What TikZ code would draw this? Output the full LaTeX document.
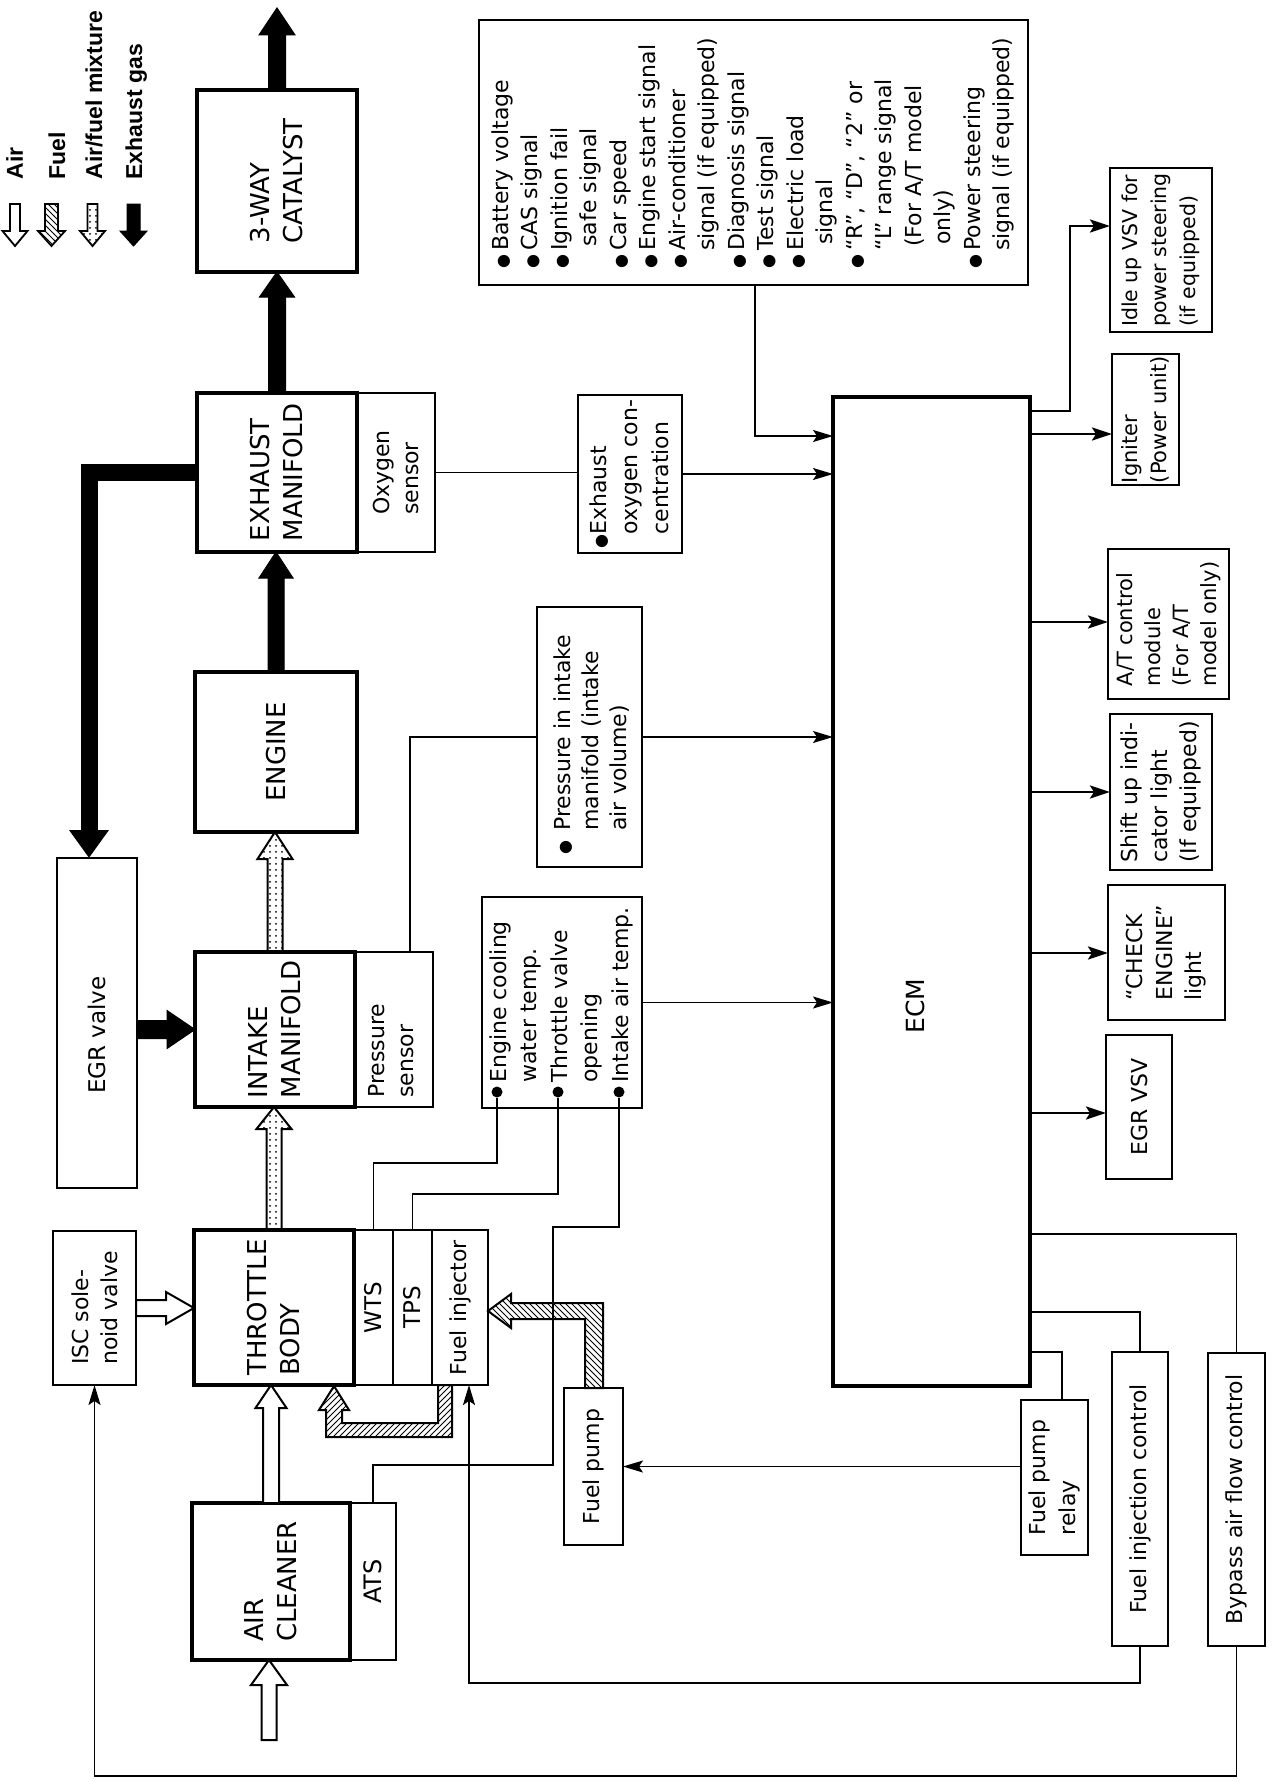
\documentclass[tikz,border=0pt]{standalone}
\usepackage{fontspec}
\setmainfont{DejaVu Sans}
\newfontfamily\legfont{Liberation Sans}
\usetikzlibrary{calc,arrows.meta,patterns}
\newcommand\bx[6][]{\node[box,#1,minimum width={(#4-#2)*0.5pt},minimum height={(#5-#3)*0.5pt}] (#6) at ({(#2+#4)/2},{(#3+#5)/2}) {};}
\newcommand\lbul[1][9pt]{\makebox[#1][l]{\fontsize{8}{8}\selectfont ●}}
\newcommand\lind[1][9pt]{\hspace*{#1}}
\newcommand\nf{\fontsize{11}{14.75}\selectfont}
\newcommand\bigf{\fontsize{13}{16.5}\selectfont}
\newcommand\legf{\legfont\bfseries\fontsize{11.5}{13}\selectfont}
\begin{document}
\begin{tikzpicture}[x=0.5pt,y=-0.5pt,
  box/.style={draw,rectangle,inner sep=0pt,outer sep=0pt,line width=1pt},
  mainbox/.style={line width=1.8pt},
  lbl/.style={rotate=90,align=left,inner sep=0pt,font=\nf},
  legl/.style={rotate=90,anchor=base west,inner sep=0pt,font=\legf},
  dot/.style={circle,fill,inner sep=0pt,minimum size=5.5pt},
  wire/.style={line width=0.8pt},
  sig/.style={line width=0.8pt,-{Stealth[length=10pt,width=6pt,inset=2pt]}},
  osig/.style={line width=1.3pt,-{Stealth[length=10pt,width=6.5pt,inset=2pt]}},
  barrow/.style n args={3}{to path={
    -- ($(\tikztostart)!#1!90:(\tikztotarget)$)
    -- ($(\tikztotarget)!#3!(\tikztostart)!#1!-90:(\tikztostart)$)
    -- ($(\tikztotarget)!#3!(\tikztostart)!#2!-90:(\tikztostart)$)
    -- (\tikztotarget)
    -- ($(\tikztotarget)!#3!(\tikztostart)!#2!90:(\tikztostart)$)
    -- ($(\tikztotarget)!#3!(\tikztostart)!#1!90:(\tikztostart)$)
    -- ($(\tikztostart)!#1!-90:(\tikztotarget)$)
    -- cycle}},
  airarr/.style={line width=1pt,fill=white},
  fuelarr/.style={line width=1pt,pattern=north west lines},
  mixarr/.style={line width=1pt,pattern=dots},
  exharr/.style={line width=0.5pt,fill=black}
]
\fill[white] (0,0) rectangle (1280,1782);
\useasboundingbox (0,0) rectangle (1280,1782);

% ---------- legend ----------
\coordinate (lg1s) at (15,204);   \coordinate (lg1e) at (15,246);
\coordinate (lg2s) at (51.5,204); \coordinate (lg2e) at (51.5,246);
\coordinate (lg3s) at (92.5,204); \coordinate (lg3e) at (92.5,246);
\coordinate (lg4s) at (133.5,204);\coordinate (lg4e) at (133.5,246);
\draw[airarr,line width=0.9pt] (lg1s) to[barrow={2.5pt}{6.25pt}{7.5pt}] (lg1e);
\draw[fuelarr,line width=0.9pt] (lg2s) to[barrow={3.25pt}{6.75pt}{7.5pt}] (lg2e);
\draw[mixarr,line width=0.9pt] (lg3s) to[barrow={2.5pt}{6.25pt}{7.5pt}] (lg3e);
\draw[exharr] (lg4s) to[barrow={3.25pt}{6.75pt}{7.5pt}] (lg4e);
\node[legl] (lg1t) at (23,180) {Air};
\node[legl] (lg2t) at (65,180) {Fuel};
\node[legl] (lg3t) at (102,180) {Air/fuel mixture};
\node[legl] (lg4t) at (142,180) {Exhaust gas};

% ---------- main chain ----------
\bx[mainbox]{197}{90}{357}{272}{cat}
\node[lbl,font=\bigf] (cat-t) at (cat) {3-WAY\\CATALYST};
\coordinate (catout) at (277,8);
\draw[exharr] (cat.north) to[barrow={4.25pt}{9pt}{13.5pt}] (catout);

\bx[mainbox]{197}{393}{357}{552}{exm}
\bx{357}{393}{435}{552}{exs}
\node[lbl,font=\bigf] (exm-t) at (exm) {EXHAUST\\MANIFOLD};
\node[lbl] (exs-t) at (exs) {Oxygen\\sensor};
\draw[exharr] (exm.north) to[barrow={4.25pt}{8.75pt}{12.5pt}] (exm.north |- cat.south);

\bx[mainbox]{195}{672}{357}{832}{eng}
\node[lbl,font=\bigf] (eng-t) at (eng) {ENGINE};
\draw[exharr] (eng.north) to[barrow={4pt}{8.5pt}{13pt}] (eng.north |- exm.south);

\bx[mainbox]{195}{952}{355}{1107}{im}
\bx{355}{952}{433}{1107}{ims}
\node[lbl,font=\bigf] (im-t) at (im) {INTAKE\\MANIFOLD};
\node[lbl,anchor=north west] (ims-t) at (368,1098) {Pressure\\sensor};
\draw[mixarr] (im.north) to[barrow={3.75pt}{8.75pt}{13.5pt}] (im.north |- eng.south);

\bx{57}{858}{137}{1188}{egr}
\node[lbl,font=\fontsize{11.5}{14}\selectfont] (egr-t) at (97,1035) {EGR valve};
\coordinate (egrin) at (89,858);
\draw[line width=8.5pt,-{Triangle[width=19pt,length=14pt]}] (exm.west) -| (egrin);
\draw[exharr] (egr.east |- im.west) to[barrow={4.5pt}{9.5pt}{14pt}] (im.west);

\bx[mainbox]{194}{1230}{354}{1385}{thr}
\bx{354}{1230}{393}{1385}{wts}
\bx{393}{1230}{432}{1385}{tps}
\bx{432}{1230}{488}{1385}{fi}
\node[lbl,font=\bigf] (thr-t) at (thr) {THROTTLE\\BODY};
\node[lbl,font=\fontsize{11.5}{14}\selectfont] (wts-t) at (wts) {WTS};
\node[lbl,font=\fontsize{11.5}{14}\selectfont] (tps-t) at (tps) {TPS};
\node[lbl] (fi-t) at (fi) {Fuel injector};
\draw[mixarr] (thr.north) to[barrow={3.75pt}{8.75pt}{11pt}] (thr.north |- im.south);

\bx[mainbox]{192}{1503}{350}{1660}{ac}
\bx{350}{1503}{396}{1660}{ats}
\node[lbl,font=\bigf] (ac-t) at (ac) {AIR\\CLEANER};
\node[lbl,font=\fontsize{12}{14}\selectfont] (ats-t) at (ats) {ATS};
\draw[airarr] (ac.north) to[barrow={4pt}{7.75pt}{11.5pt}] (ac.north |- thr.south);
\coordinate (airin) at (269,1740);
\draw[airarr] (airin) to[barrow={3.75pt}{9pt}{12.5pt}] (airin |- ac.south);

\bx{53}{1231}{136}{1385}{isc}
\node[lbl,font=\fontsize{11}{14.5}\selectfont] (isc-t) at (isc) {ISC sole-\\noid valve};
\draw[airarr] (isc.east) to[barrow={4pt}{8pt}{14pt}] (isc.east -| thr.west);

\bx{564}{1388}{623}{1545}{fp}
\node[lbl] (fp-t) at (fp) {Fuel pump};
% fuel feed (pump -> injector)
\draw[fuelarr] (585,1388) -- (585,1319) -- (511,1319) -- (511,1328) -- (fi.east |- 0,1311)
  -- (511,1294) -- (511,1303) -- (603,1303) -- (603,1388) -- cycle;
% fuel return (injector -> throttle body)
\draw[line width=1pt,pattern=north east lines] (438,1385) -- (438,1423) -- (342,1423) -- (342,1410)
  -- (349,1410) -- (334,1386) -- (319,1410) -- (326,1410) -- (326,1437) -- (452,1437) -- (452,1385) -- cycle;

% ---------- sensor boxes ----------
\bx{482}{897}{642}{1108}{sen}
\node[lbl,anchor=north west,font=\fontsize{11}{15.25}\selectfont] (sen-t) at (489,1083)
  {Engine cooling\\water temp.\\Throttle valve\\opening\\Intake air temp.};
\node[dot] (b1) at (497,1092) {};
\node[dot] (b3) at (558,1092) {};
\node[dot] (b5) at (619,1092) {};

\bx{537}{607}{642}{867}{pim}
\node[lbl,anchor=north west,font=\fontsize{11}{14}\selectfont] (pim-t) at (553,855)
  {\lbul[12pt]Pressure in intake\\\lind[12pt]manifold (intake\\\lind[12pt]air volume)};

\bx{578}{395}{682}{553}{eoc}
\node[lbl,anchor=north west,font=\fontsize{11}{15.5}\selectfont] (eoc-t) at (589,549)
  {\lbul[7pt]Exhaust\\\lind[7pt]oxygen con-\\\lind[7pt]centration};

\bx{479}{20}{1028}{285}{lst}
\node[lbl,anchor=north west] (lst-t) at (491,269) {%
\lbul Battery voltage\\
\lbul CAS signal\\
\lbul Ignition fail\\
\lind[11pt]safe signal\\
\lbul Car speed\\
\lbul Engine start signal\\
\lbul Air-conditioner\\
\lind signal (if equipped)\\
\lbul Diagnosis signal\\
\lbul Test signal\\
\lbul Electric load\\
\lind[12pt]signal\\
\lbul “R”, “D”, “2” or\\
\lind “L” range signal\\
\lind[11pt](For A/T model\\
\lind[12pt]only)\\
\lbul Power steering\\
\lind signal (if equipped)};

% ---------- ECM ----------
\bx[line width=2pt]{833}{397}{1030}{1386}{ecm}
\node[lbl,font=\fontsize{12.5}{14}\selectfont] (ecm-t) at (915,1006) {ECM};

% ---------- outputs ----------
\bx{1110}{168}{1212}{332}{idl}
\bx{1112}{354}{1179}{485}{ign}
\bx{1108}{549}{1229}{699}{atc}
\bx{1110}{714}{1212}{870}{sul}
\bx{1108}{885}{1225}{1020}{chk}
\bx{1106}{1035}{1172}{1179}{evsv}
\bx{1021}{1400}{1088}{1555}{fpr}
\bx{1112}{1352}{1168}{1646}{fic}
\bx{1208}{1353}{1265}{1646}{byp}
\node[lbl,font=\fontsize{10.25}{14.5}\selectfont] (idl-t) at (idl) {Idle up VSV for\\power steering\\(if equipped)};
\node[lbl,font=\fontsize{10.5}{14.5}\selectfont] (ign-t) at (ign) {Igniter\\(Power unit)};
\node[lbl,font=\fontsize{10.5}{14}\selectfont] (atc-t) at (atc) {A/T control\\module\\(For A/T\\model only)};
\node[lbl] (sul-t) at (sul) {Shift up indi-\\cator light\\(If equipped)};
\node[lbl] (chk-t) at (chk) {“CHECK\\ENGINE”\\light};
\node[lbl] (evsv-t) at (evsv) {EGR VSV};
\node[lbl] (fpr-t) at (fpr) {Fuel pump\\relay};
\node[lbl] (fic-t) at (fic) {Fuel injection control};
\node[lbl] (byp-t) at (byp) {Bypass air flow control};

% ---------- signal connectors ----------
\draw[wire] (exs.east) -- (exs.east -| eoc.west);
\draw[sig] (eoc.east) -- (eoc.east -| ecm.west);
\coordinate (lstout) at (755,285);
\draw[sig] (lstout) |- (ecm.west |- 0,436);
\coordinate (psout) at (410,952);
\draw[wire] (psout) |- (pim.west);
\draw[sig] (pim.east) -- (pim.east -| ecm.west);
\draw[sig] (sen.east) -- (sen.east -| ecm.west);
\draw[wire] (b1) -- (b1 |- 0,1163) -| (wts.north);
\draw[wire] (b3) -- (b3 |- 0,1194) -| (tps.north);
\coordinate (c1) at (553,1227);
\coordinate (c2) at (553,1465);
\draw[wire] (b5) |- (c1) -- (c2) -| (ats.north);
\coordinate (tfi) at (469,1385);
\draw[sig] (fic.south) |- (tfi |- 0,1683) -- (tfi);
\draw[sig] (byp.south) |- (isc.south |- 0,1776) -- (isc.south);
\draw[wire] (ecm.east |- 0,1234) -| (byp.north);
\draw[wire] (ecm.east |- 0,1312) -| (fic.north);
\coordinate (fprin) at (1062,1400);
\draw[wire] (ecm.east |- 0,1352) -| (fprin);
\draw[sig] (fp.east -| fpr.west) -- (fp.east);

\coordinate (idlk) at (1070,226);
\draw[osig] (ecm.east |- 0,411) -| (idlk) -- (idlk -| idl.west);
\draw[osig] (ecm.east |- 0,434) -- (ign.west |- 0,434);
\draw[osig] (ecm.east |- 0,622) -- (atc.west |- 0,622);
\draw[osig] (ecm.east |- 0,792) -- (sul.west |- 0,792);
\draw[osig] (ecm.east |- 0,953) -- (chk.west |- 0,953);
\draw[osig] (ecm.east |- 0,1113) -- (evsv.west |- 0,1113);
\end{tikzpicture}
\end{document}
